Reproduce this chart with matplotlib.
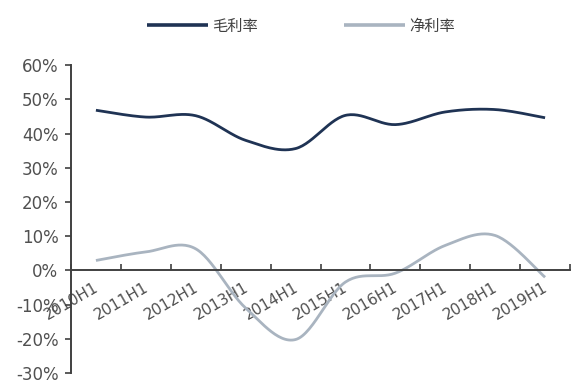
import numpy as np
import matplotlib
matplotlib.use('Agg')
import matplotlib.pyplot as plt
from matplotlib.ticker import FuncFormatter, FixedLocator

plt.rcParams['font.family'] = ['DejaVu Sans', 'Noto Sans CJK SC']

periods = ['2010H1', '2011H1', '2012H1', '2013H1', '2014H1',
           '2015H1', '2016H1', '2017H1', '2018H1', '2019H1']
gross = [46.8, 44.8, 45.2, 38.0, 35.6, 45.3, 42.6, 46.3, 47.0, 44.6]   # 毛利率 %
net = [2.9, 5.4, 6.3, -11.0, -20.2, -3.4, -0.8, 7.3, 10.2, -2.0]      # 净利率 %


def smooth(y, n=30):
    # excel style smoothed line: cubic bezier through each point
    y = np.asarray(y, float)
    x = np.arange(len(y), dtype=float)
    p = np.column_stack([x, y])
    pad = np.vstack([p[0], p, p[-1]])
    out = []
    t = np.linspace(0, 1, n)[:, None]
    for i in range(len(p) - 1):
        p0 = pad[i + 1]
        p3 = pad[i + 2]
        c1 = p0 + (pad[i + 2] - pad[i]) / 6.0
        c2 = p3 - (pad[i + 3] - pad[i + 1]) / 6.0
        seg = ((1 - t) ** 3) * p0 + 3 * ((1 - t) ** 2) * t * c1 \
            + 3 * (1 - t) * t ** 2 * c2 + t ** 3 * p3
        out.append(seg)
    out = np.vstack(out)
    return out[:, 0], out[:, 1]


fig = plt.figure(figsize=(5.71, 3.85), dpi=100)
ax = fig.add_axes([0.1243, 0.031, 0.874, 0.80])

gx, gy = smooth(gross)
nx, ny = smooth(net)
ax.plot(gx, gy, color='#1f3354', lw=2.0, label='毛利率', solid_capstyle='butt')
ax.plot(nx, ny, color='#a9b4c0', lw=2.0, label='净利率', solid_capstyle='butt')

ax.set_xlim(-0.5, len(periods) - 0.5)
ax.set_ylim(-30, 60)
ax.set_yticks(np.arange(-30, 61, 10))
ax.yaxis.set_major_formatter(FuncFormatter(lambda v, p: '%d%%' % v))

for s in ['top', 'right']:
    ax.spines[s].set_visible(False)
ax.spines['bottom'].set_position(('data', 0))
ax.spines['bottom'].set_color('#404040')
ax.spines['bottom'].set_linewidth(1.4)
ax.spines['left'].set_color('#404040')
ax.spines['left'].set_linewidth(1.4)

ax.tick_params(axis='y', direction='out', length=4, width=1.2, color='#404040',
               labelsize=12, labelcolor='#505050', pad=5)

# ticks between categories, labels at centres
ax.xaxis.set_major_locator(FixedLocator(np.arange(-0.5, len(periods), 1.0)))
ax.xaxis.set_major_formatter(FuncFormatter(lambda v, p: ''))
ax.xaxis.set_minor_locator(FixedLocator(np.arange(len(periods)) + 0.1))
ax.set_xticklabels(periods, minor=True)
ax.tick_params(axis='x', which='major', direction='in', length=4, width=1.2, color='#404040')
ax.tick_params(axis='x', which='minor', length=0, pad=7, labelsize=11,
               labelcolor='#505050')
for lab in ax.get_xticklabels(minor=True):
    lab.set_rotation(30)
    lab.set_ha('right')
    lab.set_va('top')

leg = fig.legend(loc='upper center', bbox_to_anchor=(0.527, 0.99), ncol=2, frameon=False,
                 prop={'family': ['Noto Sans CJK SC'], 'size': 11},
                 handlelength=4.0, handletextpad=0.3, columnspacing=5.6)
for t in leg.get_texts():
    t.set_color('#404040')
for h in leg.get_lines():
    h.set_linewidth(2.6)

fig.savefig('out.png', dpi=100)
